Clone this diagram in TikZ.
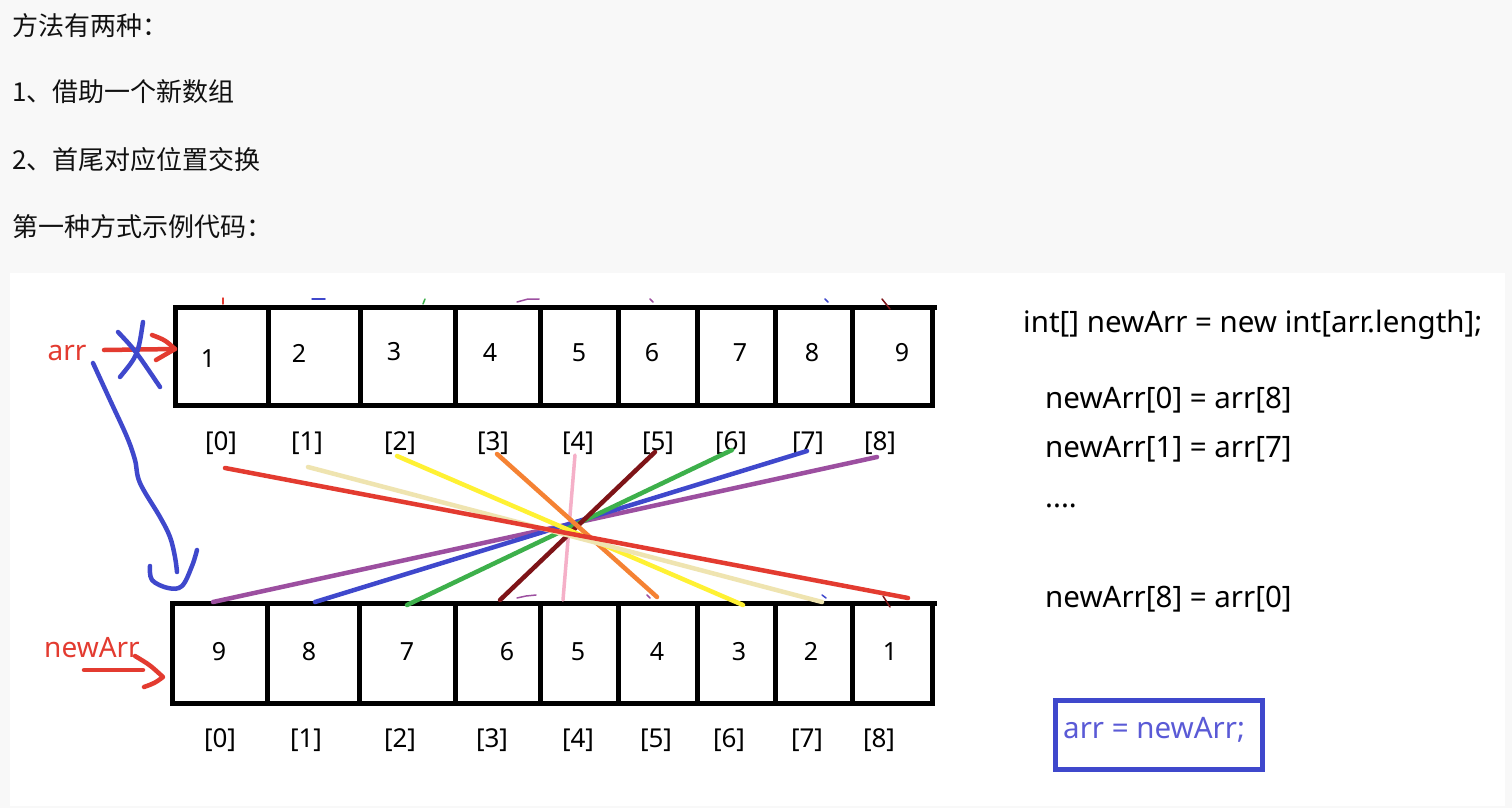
\documentclass[tikz,border=0pt]{standalone}
\usepackage{fontspec}
\setmainfont{Noto Sans}
\newfontfamily\cjk{Noto Sans CJK SC}
\definecolor{pagegray}{HTML}{F8F8F8}
\definecolor{headtxt}{HTML}{111111}
\definecolor{penred}{HTML}{E33B30}
\definecolor{penblue}{HTML}{3F48CC}
\definecolor{boxtxt}{HTML}{5A5AD6}
\definecolor{cbeige}{HTML}{EFE4B0}
\definecolor{cyellow}{HTML}{FFF133}
\definecolor{corange}{HTML}{F58233}
\definecolor{cpink}{HTML}{F5B0C8}
\definecolor{cdred}{HTML}{7E1418}
\definecolor{cgreen}{HTML}{3DB04B}
\definecolor{cpurple}{HTML}{9C4FA0}
\begin{document}
\begin{tikzpicture}[x=1pt,y=-1pt,
  cellline/.style={line width=5pt, draw=black},
  digit/.style={anchor=base, font=\fontsize{25}{29}\selectfont, text=black, inner sep=0pt},
  idx/.style={anchor=base, font=\fontsize{26}{30}\selectfont, text=black, inner sep=0pt},
  head/.style={anchor=base west, font=\cjk\fontsize{26}{30}\selectfont, text=headtxt, inner sep=0pt},
  code/.style={anchor=base west, font=\fontsize{29.5}{34}\selectfont, text=black, inner sep=0pt},
  xline/.style={line width=4.5pt, line cap=round},
  pen/.style={line width=4.5pt, line cap=round, line join=round},
  tick/.style={line width=1.5pt, line cap=round}]
\useasboundingbox (0,0) rectangle (1512,808);
\fill[pagegray] (0,0) rectangle (1512,808);
\fill[white] (10,273) rectangle (1505,806);

% heading text
\node[head] (h1) at (12,36) {方法有两种：};
\node[head] (h2) at (12,101) {1、借助一个新数组};
\node[head] (h3) at (12,169) {2、首尾对应位置交换};
\node[head] (h4) at (12,236) {第一种方式示例代码：};

% top array
\draw[cellline] (175,307) rectangle (932,405);
\foreach \x in {268,360,455,540,618,697,775,852} \draw[cellline] (\x,307) -- (\x,405);
\draw[cellline] (932,307) -- (937,307);
% bottom array
\draw[cellline] (172,603) rectangle (932,703);
\foreach \x in {267,359,455,540,618,697,775,852} \draw[cellline] (\x,603) -- (\x,703);
\draw[cellline] (932,603) -- (937,603);

% digits
\foreach \v/\x/\y [count=\i] in {1/208/367,2/299/362,3/394/360,4/490/361,5/579/361,6/652/361,7/740/361,8/812/361,9/902/361}
  \node[digit] (t\i) at (\x,\y) {\v};
\foreach \v/\x [count=\i] in {9/219,8/309,7/407,6/507,5/578,4/657,3/739,2/811,1/890}
  \node[digit] (b\i) at (\x,660) {\v};

% index labels
\foreach \x [count=\i from 0] in {221,307,400,493,578,658,731,808,880}
  \node[idx] (ti\i) at (\x,450) {[\i]};
\foreach \x [count=\i from 0] in {220,306,400,492,578,656,729,807,879}
  \node[idx] (bi\i) at (\x,747) {[\i]};

% endpoints of crossing lines
\coordinate (s0) at (225,468); \coordinate (e0) at (908,598);
\coordinate (s1) at (308,467); \coordinate (e1) at (822,602);
\coordinate (s2) at (397,456); \coordinate (e2) at (743,605);
\coordinate (s3) at (497,454); \coordinate (e3) at (657,597);
\coordinate (s4) at (575,455); \coordinate (e4) at (563,600);
\coordinate (s5) at (655,452); \coordinate (e5) at (500,600);
\coordinate (s6) at (732,450); \coordinate (e6) at (407,605);
\coordinate (s7) at (807,451); \coordinate (e7) at (315,602);
\coordinate (s8) at (877,457); \coordinate (e8) at (213,602);

\draw[xline, line width=3.5pt, cpink] (s4) -- (e4);
\draw[xline, cpurple] (s8) -- (e8);
\draw[xline, penblue] (s7) -- (e7);
\draw[xline, cgreen] (s6) -- (e6);
\draw[xline, cdred] (s5) -- (e5);
\draw[xline, corange] (s3) -- (e3);
\draw[xline, cyellow] (s2) -- (e2);
\draw[xline, cbeige] (s1) -- (e1);
\draw[xline, penred] (s0) -- (e0);

% small stray marks
\draw[tick, penred] (223,298) -- (223,304);
\draw[tick, penblue] (312,299) -- (325,299);
\draw[tick, cgreen] (423,304) -- (425,299);
\draw[tick, cpurple] (517,302) -- (528,299) -- (539,299);
\draw[tick, cpurple] (650,299) -- (653,302);
\draw[tick, penblue] (825,299) -- (828,302);
\draw[tick, cdred] (882,299) -- (890,309);
\draw[tick, cpurple] (517,598) -- (526,596) -- (536,595);
\draw[tick, cpurple] (647,595) -- (650,598);
\draw[tick, penblue] (822,595) -- (826,598);
\draw[tick, cdred] (883,596) -- (890,607);

% arr label and arrow
\node[anchor=base, font=\fontsize{28}{32}\selectfont, text=penred, inner sep=0pt] (arr) at (67,360) {arr};
\coordinate (arrA) at (104,350);
\coordinate (arrB) at (175,349);
\draw[pen, penred] (arrA) -- (arrB);
\draw[pen, penred] (152,335) .. controls (165,340) .. (arrB) .. controls (165,355) .. (156,360);
% blue cross over the arr arrow
\draw[pen, penblue] (118,332) .. controls (135,350) .. (160,387);
\draw[pen, penblue] (143,322) .. controls (138,355) .. (120,377);

% newArr label and arrow
\node[anchor=base, font=\fontsize{28}{32}\selectfont, text=penred, inner sep=0pt] (newarr) at (92,657) {newArr};
\coordinate (naA) at (84,670);
\coordinate (naB) at (163,677);
\draw[pen, penred] (naA) -- (143,670);
\draw[pen, penred] (135,656) .. controls (150,665) .. (naB) .. controls (155,683) .. (144,687);

% blue curved arrow from arr to newArr
\draw[pen, penblue] plot[smooth, tension=0.6] coordinates {(93,363) (110,400) (127,437) (135,460) (140,483) (160,517) (170,537) (175,557) (177,572)};
\draw[pen, penblue] plot[smooth, tension=0.6] coordinates {(150,566) (152,580) (168,588) (182,586) (192,566) (197,550)};

% code text
\node[code] (c1) at (1023,332) {int[] newArr = new int[arr.length];};
\node[code] (c2) at (1045,408) {newArr[0] = arr[8]};
\node[code] (c3) at (1045,457) {newArr[1] = arr[7]};
\node[code] (c4) at (1045,507) {....};
\node[code] (c5) at (1045,607) {newArr[8] = arr[0]};
\node[code, text=boxtxt] (c6) at (1063,738) {arr = newArr;};
\draw[penblue, line width=5pt] (1055,700) rectangle (1262,769);
\end{tikzpicture}
\end{document}
